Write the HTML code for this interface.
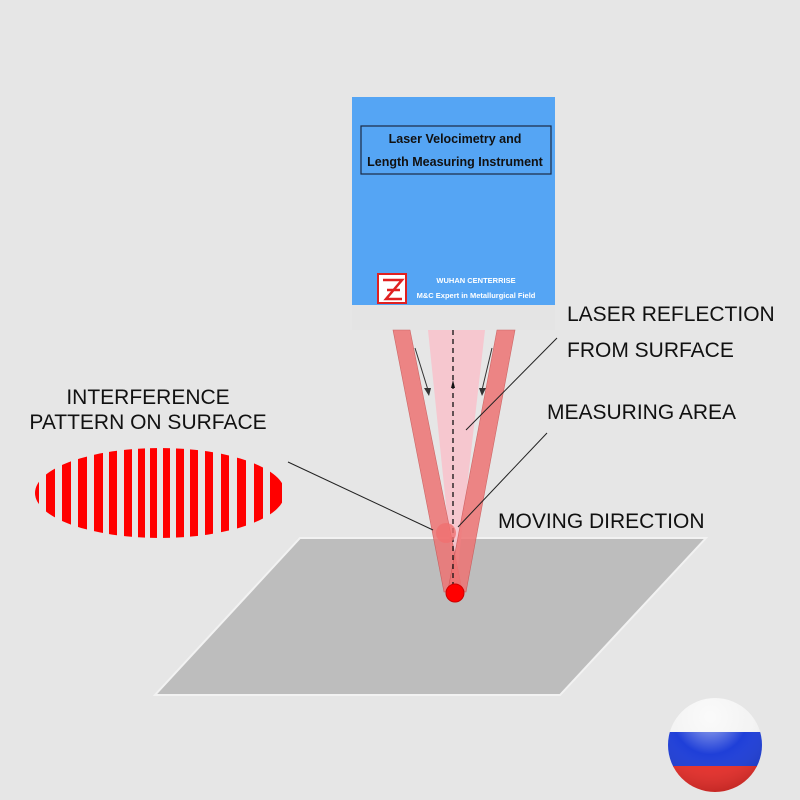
<!DOCTYPE html>
<html><head><meta charset="utf-8"><style>
body{margin:0;background:#e6e6e6;}
svg{display:block}
text{font-family:"Liberation Sans",sans-serif}
</style></head><body>
<svg width="800" height="800" viewBox="0 0 800 800">
<defs>
<clipPath id="ell"><ellipse cx="160" cy="493" rx="125" ry="45"/></clipPath>
<clipPath id="flag"><circle cx="715" cy="745" r="47"/></clipPath>
<radialGradient id="shine" cx="0.45" cy="0.2" r="0.8">
<stop offset="0" stop-color="#fff" stop-opacity="0.6"/><stop offset="0.5" stop-color="#fff" stop-opacity="0"/><stop offset="1" stop-color="#000" stop-opacity="0.15"/></radialGradient>
</defs>
<rect width="800" height="800" fill="#e6e6e6"/>
<!-- plane -->
<polygon points="300,538 706,538 560,695 155,695" fill="#bdbdbd" stroke="#f2f2f2" stroke-width="2"/>
<!-- box -->
<rect x="352" y="97" width="203" height="233" fill="#e4e4e4"/>
<rect x="352" y="97" width="203" height="208" fill="#55a5f4"/>
<rect x="361" y="126" width="190" height="48" fill="none" stroke="#1c2a44" stroke-width="1.2"/>
<text x="455" y="143" font-size="12.5" font-weight="bold" text-anchor="middle" fill="#111">Laser Velocimetry and</text>
<text x="455" y="166" font-size="12.5" font-weight="bold" text-anchor="middle" fill="#111">Length Measuring Instrument</text>
<rect x="378" y="274" width="28" height="29" fill="#fff" stroke="#e02020" stroke-width="2"/>
<path d="M383,280 H402 L386,299 H402 M387,290 H400" fill="none" stroke="#e02020" stroke-width="2.5"/>
<text x="476" y="283" font-size="7.5" font-weight="bold" text-anchor="middle" fill="#fff">WUHAN CENTERRISE</text>
<text x="476" y="298" font-size="7.5" font-weight="bold" text-anchor="middle" fill="#fff">M&amp;C Expert in Metallurgical Field</text>
<!-- beams -->
<polygon points="428,330 485,330 455,592" fill="#f7c3cc" opacity="0.9"/>
<polygon points="393,330 410,330 462,590 444,592" fill="#ee7474" opacity="0.85" stroke="#c85050" stroke-width="0.6"/>
<polygon points="497,330 515,330 466,592 448,590" fill="#ee7474" opacity="0.85" stroke="#c85050" stroke-width="0.6"/>
<line x1="453" y1="330" x2="453" y2="588" stroke="#111" stroke-width="1.3" stroke-dasharray="5,4"/>
<line x1="415" y1="348" x2="428" y2="390" stroke="#333"/><polygon points="424,388 431,388 429,396" fill="#333"/>
<line x1="492" y1="348" x2="482" y2="390" stroke="#333"/><polygon points="479,388 486,388 482,396" fill="#333"/>
<polygon points="453,380 451,388 455,388" fill="#111"/>
<circle cx="446" cy="533" r="10" fill="#f07070" opacity="0.8"/>
<circle cx="455" cy="593" r="9" fill="#f00" stroke="#c00"/>
<!-- leaders -->
<line x1="557" y1="338" x2="466" y2="430" stroke="#222" stroke-width="1"/>
<line x1="547" y1="433" x2="458" y2="527" stroke="#222" stroke-width="1"/>
<line x1="288" y1="462" x2="433" y2="530" stroke="#222" stroke-width="1"/>
<!-- interference -->
<g clip-path="url(#ell)">
<g fill="#f00">
<rect x="33" y="440" width="6" height="110"/>
<rect x="46" y="440" width="9" height="110"/>
<rect x="62" y="440" width="9" height="110"/>
<rect x="78" y="440" width="9" height="110"/>
<rect x="94" y="440" width="9" height="110"/>
<rect x="109" y="440" width="8" height="110"/>
<rect x="124" y="440" width="8" height="110"/>
<rect x="138" y="440" width="7" height="110"/>
<rect x="150" y="440" width="7" height="110"/>
<rect x="163" y="440" width="7" height="110"/>
<rect x="176" y="440" width="8" height="110"/>
<rect x="190" y="440" width="8" height="110"/>
<rect x="205" y="440" width="8" height="110"/>
<rect x="221" y="440" width="8" height="110"/>
<rect x="237" y="440" width="9" height="110"/>
<rect x="254" y="440" width="9" height="110"/>
<rect x="270" y="440" width="12" height="110"/>
</g></g>
<!-- labels -->
<g font-size="21" fill="#111">
<text x="567" y="321">LASER REFLECTION</text>
<text x="567" y="357">FROM SURFACE</text>
<text x="547" y="419">MEASURING AREA</text>
<text x="498" y="528">MOVING DIRECTION</text>
<text x="148" y="404" text-anchor="middle">INTERFERENCE</text>
<text x="148" y="429" text-anchor="middle">PATTERN ON SURFACE</text>
</g>
<!-- flag -->
<g clip-path="url(#flag)">
<rect x="660" y="690" width="110" height="43" fill="#f4f4f4"/>
<rect x="660" y="732" width="110" height="35" fill="#1f3fd8"/>
<rect x="660" y="766" width="110" height="40" fill="#e8302c"/>
<circle cx="715" cy="745" r="47" fill="url(#shine)"/>
</g>
</svg>
</body></html>
